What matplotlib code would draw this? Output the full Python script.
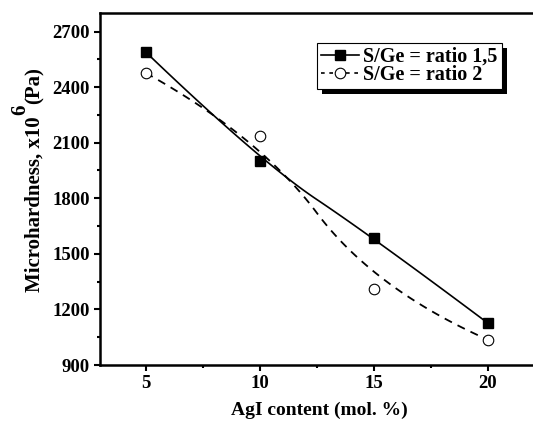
import numpy as np
import matplotlib
matplotlib.use("Agg")
import matplotlib.pyplot as plt
from matplotlib.ticker import MultipleLocator
from matplotlib.patches import Rectangle

plt.rcParams['font.family'] = ['Liberation Serif', 'DejaVu Serif']
plt.rcParams['font.weight'] = 'bold'

# Data
agi = [5, 10, 15, 20]
ratio_15 = [2590, 2000, 1588, 1127]
ratio_2 = [2477, 2134, 1311, 1037]
xticks = [5, 10, 15, 20]
yticks = [900, 1200, 1500, 1800, 2100, 2400, 2700]
labels = ["S/Ge = ratio 1,5", "S/Ge = ratio 2"]
ylabel_parts = ["Microhardness, x10", "6", "(Pa)"]
xlabel = "AgI content (mol. %)"


def bspline2(xs, ys, n=60):
    """Clamped uniform quadratic B-spline using data points as control points."""
    P = np.column_stack([xs, ys]).astype(float)
    m = len(P)
    segs = []
    for i in range(m - 2):
        a = P[i] if i == 0 else (P[i] + P[i + 1]) / 2
        b = P[i + 1]
        c = P[i + 2] if i == m - 3 else (P[i + 1] + P[i + 2]) / 2
        u = np.linspace(0, 1, n)[:, None]
        segs.append((1 - u) ** 2 * a + 2 * u * (1 - u) * b + u ** 2 * c)
    pts = np.vstack(segs)
    return pts[:, 0], pts[:, 1]


W, H = 533, 425
fig = plt.figure(figsize=(W / 100, H / 100), dpi=100)
ax = fig.add_axes([100 / W, 60 / H, 437.8 / W, 352 / H])

cx, cy = bspline2(agi, ratio_15)
ax.plot(cx, cy, color='k', lw=1.2)
cx2, cy2 = bspline2(agi, ratio_2)
ax.plot(cx2, cy2, color='k', lw=1.3, dashes=(4.5, 3.5))

ax.plot(agi, ratio_15, ls='none', marker='s', ms=7.2, mfc='k', mec='k')
ax.plot(agi, ratio_2, ls='none', marker='o', ms=7.6, mfc='white', mec='k', mew=0.8)

# legend proxies
h1, = ax.plot([], [], color='k', lw=1.2, marker='s', ms=7.2, mfc='k', mec='k')
h2, = ax.plot([], [], color='k', lw=1.2, dashes=(2.2, 2.8), marker='o', ms=7.6,
              mfc='white', mec='k', mew=0.8)
leg = fig.legend([h1, h2], labels, loc='upper left',
                 bbox_to_anchor=(317 / W, (H - 43) / H),
                 fancybox=False, edgecolor='k', framealpha=1, shadow=False,
                 prop={'family': 'Liberation Serif', 'weight': 'bold', 'size': 14.5},
                 handlelength=1.9, handletextpad=0.2, borderpad=0.2, labelspacing=-0.08,
                 borderaxespad=0)
leg.get_frame().set_linewidth(0.8)
leg.set_zorder(10)

ax.set_xlim(3, 22.2)
ax.set_ylim(900, 2800)
ax.set_xticks(xticks)
ax.set_yticks(yticks)
ax.xaxis.set_minor_locator(MultipleLocator(2.5))
ax.yaxis.set_minor_locator(MultipleLocator(150))
ax.tick_params(which='major', direction='out', length=4.3, width=1.5, labelsize=13.5, pad=3)
ax.tick_params(which='minor', direction='out', length=2.3, width=1.5)
for lab in ax.get_xticklabels() + ax.get_yticklabels():
    lab.set_fontweight('bold')
for s in ax.spines.values():
    s.set_linewidth(1.8)
ax.spines['right'].set_visible(False)

ax.set_xlabel(xlabel, fontsize=14, fontweight='bold', labelpad=7)

# y label built from pieces so the superscript keeps full size
renderer = fig.canvas.get_renderer()
ysize = 15
base_x = 40
y0 = H - 292
t1 = fig.text(base_x / W, y0 / H, ylabel_parts[0], rotation=90, rotation_mode='anchor',
              ha='left', va='baseline', fontsize=ysize, fontweight='bold')
l1 = t1.get_window_extent(renderer).height
t2 = fig.text((base_x - 15) / W, (y0 + l1 + 1) / H, ylabel_parts[1], rotation=90,
              rotation_mode='anchor', ha='left', va='baseline', fontsize=ysize,
              fontweight='bold')
l2 = t2.get_window_extent(renderer).height
t3 = fig.text(base_x / W, (y0 + l1 + l2 + 2) / H, ylabel_parts[2], rotation=90,
              rotation_mode='anchor', ha='left', va='baseline', fontsize=ysize,
              fontweight='bold')

# legend shadow (solid black, offset down-right)
fig.canvas.draw()
bb = leg.get_frame().get_window_extent(renderer)
off = 5
fig.patches.append(Rectangle(((bb.x0 + off) / W, (bb.y0 - off) / H), bb.width / W, bb.height / H,
                             transform=fig.transFigure, facecolor='k', edgecolor='none',
                             zorder=9))

fig.savefig('out.png', dpi=100)
